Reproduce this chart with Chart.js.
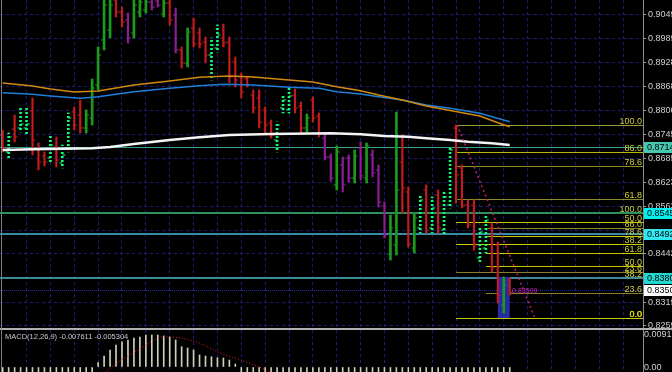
<!DOCTYPE html>
<html>
<head>
<meta charset="utf-8">
<script src="https://cdn.jsdelivr.net/npm/chart.js@4"></script>
<style>
  html, body { margin: 0; padding: 0; background: #000; }
  #wrap { position: relative; width: 672px; height: 372px; overflow: hidden; background: #000; }
  #main { position: absolute; left: 0; top: 0; }
  #macd { position: absolute; left: 0; top: 330px; }
  #sep { position: absolute; left: 0; top: 328px; width: 672px; height: 2px; background: #b0b0b0; }
  #edge { position: absolute; left: 1px; top: 0; width: 1px; height: 372px; background: #7c7c7c; }
  #macdTitle { position: absolute; left: 5px; top: 332px; font: 7.5px "Liberation Sans"; color: #c8c8c8; white-space: nowrap; }
</style>
</head>
<body>
<div id="wrap">
  <canvas id="main" width="672" height="328"></canvas>
  <div id="sep"></div>
  <canvas id="macd" width="672" height="42"></canvas>
  <div id="edge"></div>
  <div id="macdTitle">MACD(12,26,9) -0.007611 -0.005304</div>
</div>
<script>
// bar colours: r = red, p = purple, g = green, G = bright green (dotted)
const kinds = ('rGrGGrrrGr' + 'GGrrgggggr' + 'rpgggppgrp' + 'rgrrrGGrrr' + 'rrrrrrGGGr' +
               'rgrrppgppg' + 'pgpppggrrg' + 'GrGrGGrrrr' + 'GGrrgr').split('');

const highs = [
  0.87572, 0.87495, 0.87953, 0.88156, 0.88156, 0.88385, 0.87241, 0.87013, 0.87445, 0.87394,
  0.87190, 0.88004, 0.88156, 0.88334, 0.88080, 0.88868, 0.89682, 0.91050, 0.91180, 0.91100,
  0.90698, 0.90546, 0.91020, 0.91250, 0.91310, 0.91280, 0.91150, 0.91090, 0.91040, 0.90673,
  0.89682, 0.90165, 0.90419, 0.90165, 0.89936, 0.89910, 0.90241, 0.90266, 0.89936, 0.89427,
  0.89021, 0.88919, 0.88589, 0.88589, 0.88156, 0.87826, 0.87775, 0.88436, 0.88639, 0.88614,
  0.88284, 0.87978, 0.88411, 0.88004, 0.87495, 0.86962, 0.87165, 0.86885, 0.86936, 0.87063,
  0.87267, 0.87241, 0.87063, 0.86682, 0.85742, 0.85411, 0.88029, 0.87445, 0.86123, 0.85462,
  0.85919, 0.86174, 0.85869, 0.86047, 0.85996, 0.87140, 0.87699, 0.86682, 0.85792, 0.85792,
  0.85081, 0.85411, 0.85208, 0.84725, 0.83835, 0.83810
];
const lows = [
  0.87013, 0.86835, 0.87267, 0.87521, 0.87445, 0.86936, 0.86555, 0.86657, 0.86758, 0.86631,
  0.86606, 0.87013, 0.87572, 0.87495, 0.87495, 0.87699, 0.88589, 0.89605, 0.89910, 0.90444,
  0.90190, 0.89783, 0.89910, 0.90444, 0.90546, 0.90622, 0.90698, 0.90444, 0.90241, 0.89529,
  0.89148, 0.89173, 0.89682, 0.89656, 0.89275, 0.88843, 0.89555, 0.89682, 0.88766, 0.88665,
  0.88385, 0.88665, 0.88004, 0.87623, 0.87495, 0.87368, 0.87013, 0.88004, 0.88004, 0.88004,
  0.87495, 0.87521, 0.87775, 0.87394, 0.86809, 0.86275, 0.86047, 0.85996, 0.86250, 0.86224,
  0.86301, 0.86224, 0.86377, 0.85614, 0.84826, 0.84267, 0.84394, 0.85462, 0.84598, 0.84445,
  0.84953, 0.84953, 0.84953, 0.84953, 0.84903, 0.85589, 0.85716, 0.85589, 0.85081, 0.84521,
  0.84191, 0.84445, 0.83962, 0.83174, 0.82920, 0.83377
];
const opens = [
  0.87445, 0.87013, 0.87597, 0.87623, 0.87623, 0.88055, 0.87114, 0.86911, 0.86860, 0.87140,
  0.86733, 0.87114, 0.88029, 0.87953, 0.87623, 0.87876, 0.88715, 0.89859, 0.90113, 0.90876,
  0.90571, 0.90368, 0.90037, 0.90571, 0.90622, 0.90825, 0.90851, 0.90520, 0.90800, 0.90495,
  0.89605, 0.89275, 0.90165, 0.90037, 0.89808, 0.89478, 0.89656, 0.89910, 0.89808, 0.89300,
  0.88919, 0.88868, 0.88461, 0.88385, 0.88080, 0.87749, 0.87317, 0.88131, 0.88080, 0.88461,
  0.88182, 0.87623, 0.88334, 0.87927, 0.87368, 0.86885, 0.86174, 0.86682, 0.86860, 0.86351,
  0.87114, 0.86351, 0.86936, 0.86555, 0.85640, 0.84419, 0.84648, 0.86758, 0.85996, 0.84572,
  0.85081, 0.86047, 0.85081, 0.85919, 0.85029, 0.85665, 0.87623, 0.86606, 0.85665, 0.85665,
  0.84318, 0.84572, 0.85081, 0.84648, 0.83123, 0.83758
];
const closes = [
  0.87114, 0.87394, 0.87394, 0.87724, 0.87724, 0.87317, 0.86758, 0.86758, 0.87190, 0.86809,
  0.86936, 0.87876, 0.87699, 0.87623, 0.87953, 0.88639, 0.89478, 0.90749, 0.90749, 0.90571,
  0.90317, 0.89910, 0.90749, 0.90825, 0.90825, 0.90698, 0.90749, 0.90800, 0.90368, 0.89605,
  0.89275, 0.90063, 0.89758, 0.89758, 0.89478, 0.89732, 0.89986, 0.89783, 0.88919, 0.88843,
  0.88537, 0.88715, 0.88131, 0.87775, 0.87699, 0.87445, 0.87699, 0.88334, 0.88436, 0.88131,
  0.87623, 0.87876, 0.87876, 0.87495, 0.86885, 0.86351, 0.87013, 0.86174, 0.86351, 0.86911,
  0.86402, 0.87165, 0.86478, 0.85742, 0.84903, 0.85081, 0.86047, 0.86097, 0.84674, 0.85334,
  0.85792, 0.85029, 0.85589, 0.85081, 0.85869, 0.87063, 0.86428, 0.85665, 0.85157, 0.84648,
  0.84979, 0.85284, 0.84063, 0.83377, 0.83632, 0.83453
];

// moving averages, read at a few bars
const maOrangeX = [0, 5, 8, 12, 16, 22, 28, 33, 38, 42, 48, 52, 56, 60, 63, 67, 71, 75, 80, 83, 85];
const maOrange  = [0.88766, 0.88690, 0.88614, 0.88538, 0.88563, 0.88716, 0.88817, 0.88911, 0.88944, 0.88919, 0.88843,
                   0.88792, 0.88672, 0.88571, 0.88461, 0.88334, 0.88182, 0.88067, 0.87928, 0.87757, 0.87656];
const maBlueX = [0, 5, 8, 13, 16, 22, 28, 33, 37, 42, 48, 53, 56, 60, 63, 67, 71, 75, 80, 85];
const maBlue  = [0.88520, 0.88479, 0.88436, 0.88378, 0.88418, 0.88545, 0.88632, 0.88698, 0.88733, 0.88716,
                 0.88657, 0.88632, 0.88545, 0.88487, 0.88418, 0.88334, 0.88207, 0.88123, 0.87996, 0.87783];
const maWhiteX = [0, 5, 15, 18, 22, 28, 33, 38, 45, 55, 60, 64, 68, 71, 75, 78, 82, 85];
const maWhite  = [0.87063, 0.87081, 0.87107, 0.87140, 0.87216, 0.87318, 0.87386, 0.87445, 0.87470, 0.87488,
                  0.87462, 0.87419, 0.87401, 0.87361, 0.87318, 0.87274, 0.87234, 0.87190];

// horizontal price levels
const levelPrices = [0.87146, 0.85454, 0.84925, 0.83803, 0.83509];
const levelLabels = ['0.87146', '0.85454', '0.84925', '0.83803', '0.83509'];

// fibonacci retracements
const fibRatios = [100, 86, 78.6, 61.8, 50, 38.2, 23.6, 0];
const fib1Start = 76, fib1High = 0.87699, fib1Low = 0.82792;
const fib2Start = 81, fib2High = 0.85454, fib2Low = 0.82792;

// trend line and box
const trendX = [76.2, 89.2];
const trendY = [0.87699, 0.82792];
const boxFrom = 83, boxTo = 85, boxTop = 0.83835, boxBottom = 0.82792;
const noteText = '0.83509', noteX = 85.4, notePrice = 0.83469;

// axis ticks
const priceTicks  = [0.90495, 0.89895, 0.89280, 0.88680, 0.88065, 0.87450, 0.86850, 0.86235, 0.85635, 0.85020, 0.84420, 0.83805, 0.83190, 0.82590];
const priceLabels = ['0.90495', '0.89895', '0.89280', '0.88680', '0.88065', '0.87450', '0.86850', '0.86235', '0.85635', '', '0.84420', '', '0.83190', '0.82590'];
const gridBars = [4, 8, 12, 16, 20, 24, 28, 32, 36, 40, 44, 48, 52, 56, 60, 64, 68, 72, 76, 80, 84, 88, 92, 96, 100, 104];

// MACD
const macdHist = [
  -0.0041, -0.0043, -0.0044, -0.0042, -0.0040, -0.0041, -0.0042, -0.0040, -0.0037, -0.0034,
  -0.0030, -0.0026, -0.0022, -0.0019, -0.0017, -0.0016, 0.00119, 0.00304, 0.00470, 0.00608,
  0.00699, 0.00746, 0.00802, 0.00829, 0.00884, 0.00884, 0.00884, 0.00857, 0.00829, 0.00746,
  0.00561, 0.00525, 0.00470, 0.00332, 0.00304, 0.00285, 0.00257, 0.00249, 0.00193, 0.00083,
  -0.0015, -0.0019, -0.0024, -0.0028, -0.0031, -0.0033, -0.0034, -0.0033, -0.0032, -0.0031,
  -0.0031, -0.0032, -0.0031, -0.0032, -0.0035, -0.0039, -0.0041, -0.0044, -0.0046, -0.0046,
  -0.0046, -0.0045, -0.0046, -0.0050, -0.0057, -0.0063, -0.0060, -0.0058, -0.0061, -0.0062,
  -0.0060, -0.0059, -0.0057, -0.0056, -0.0053, -0.0047, -0.0045, -0.0046, -0.0048, -0.0052,
  -0.0055, -0.0055, -0.0060, -0.0068, -0.0074, -0.0076
];
const macdSignalX = [16, 18, 20, 22, 24, 26, 27, 30, 33, 36, 40, 43, 45, 50, 55, 60, 65, 70, 75, 80, 85];
const macdSignal  = [-0.0030, -0.0004, 0.0021, 0.0040, 0.0061, 0.0080, 0.0083, 0.0080, 0.0066, 0.0042, 0.0019,
                     0.0000, -0.0014, -0.0030, -0.0034, -0.0044, -0.0052, -0.0059, -0.0053, -0.0050, -0.0053];
const macdTicks  = [0.00912, 0];
const macdLabels = ['0.00912', '0.00'];

const barColor = { r: '#c41c1c', p: '#8e1e96', g: '#1c9a1c', G: '#10ff70' };
const gridColor = '#1c1c7c';
const axisFont = { family: 'Liberation Sans', size: 9 };

const mainCtx = document.getElementById('main').getContext('2d');

function dotted(color) {
  const c = document.createElement('canvas');
  c.width = 1; c.height = 4;
  const g = c.getContext('2d');
  g.fillStyle = color;
  g.fillRect(0, 0, 1, 2);
  return mainCtx.createPattern(c, 'repeat');
}

function xScale() {
  return {
    type: 'linear', min: -0.45, max: 107.34, offset: false,
    afterBuildTicks: s => { s.ticks = gridBars.map(v => ({ value: v })); },
    afterFit: s => { s.height = 0; s.paddingLeft = 0; s.paddingRight = 0; },
    ticks: { display: false },
    grid: { color: gridColor, drawTicks: false, offset: false },
    border: { display: false, dash: [3, 3] }
  };
}

const idx = highs.map((_, i) => i);

const wickSets = ['p', 'r', 'g', 'G'].map(k => ({
  type: 'bar',
  data: idx.filter(i => kinds[i] === k).map(i => ({ x: i, y: [lows[i], highs[i]] })),
  backgroundColor: k === 'G' ? dotted(barColor.G) : barColor[k],
  barThickness: (k === 'g' || k === 'G') ? 2 : 1.5,
  grouped: false,
  order: 3
}));

function tickSet(values, shift) {
  return {
    type: 'line', showLine: false, order: 2,
    data: values.map((v, i) => ({ x: i + shift, y: v })),
    pointStyle: 'line', pointRadius: 1.5, pointBorderWidth: 1,
    pointBorderColor: kinds.map(k => barColor[k]),
    pointBackgroundColor: kinds.map(k => barColor[k])
  };
}

function maSet(xs, ys, color, width) {
  return {
    type: 'line', order: 1,
    data: xs.map((x, i) => ({ x: x, y: ys[i] })),
    borderColor: color, borderWidth: width, pointRadius: 0, tension: 0
  };
}

function fibLevels(high, low) {
  return fibRatios.map(r => low + (high - low) * r / 100);
}

const fib1Colors = ['#9a9a36', '#b8b800', '#8a8a28', '#8a8a28', '#c8c800', '#d0d000', '#8a7e28', '#c8c800'];
const fib2Colors = ['#8a8a28', '#8a8a28', '#c8c800', '#c8c800', '#c8c800', '#8a8a28', '#8a7e28', '#c8c800'];
const levelColors = ['#3a9e8c', '#2f8f5f', '#3a8aa6', '#3c8a9a', '#2a2aa0'];
const levelWidths = [1, 2, 2, 2, 1];
const boxColors = ['#46c8b0', '#00f0f0', '#30e8f0', '#20d8d0', '#ffffff'];

const mainOverlay = {
  id: 'mainOverlay',
  beforeDatasetsDraw(chart) {
    const { ctx, chartArea: a, scales: { x, y } } = chart;
    ctx.save();
    ctx.beginPath(); ctx.rect(a.left, a.top, a.width, a.height); ctx.clip();
    ctx.lineWidth = 1;
    [[fib1Start, fib1High, fib1Low, fib1Colors], [fib2Start, fib2High, fib2Low, fib2Colors]].forEach(([s, hi, lo, cols]) => {
      const x0 = x.getPixelForValue(s);
      fibLevels(hi, lo).forEach((p, k) => {
        const py = Math.round(y.getPixelForValue(p)) + 0.5;
        ctx.strokeStyle = cols[k];
        ctx.beginPath(); ctx.moveTo(x0, py); ctx.lineTo(a.right, py); ctx.stroke();
      });
    });
    levelPrices.forEach((p, k) => {
      const w = levelWidths[k];
      const py = Math.round(y.getPixelForValue(p)) + (w % 2 ? 0.5 : 0);
      ctx.strokeStyle = levelColors[k];
      ctx.lineWidth = w;
      ctx.setLineDash(k === 4 ? [1, 1] : []);
      ctx.beginPath(); ctx.moveTo(a.left, py); ctx.lineTo(a.right, py); ctx.stroke();
    });
    ctx.setLineDash([]);
    const bx0 = x.getPixelForValue(boxFrom), bx1 = x.getPixelForValue(boxTo);
    const by0 = y.getPixelForValue(boxTop), by1 = y.getPixelForValue(boxBottom);
    ctx.fillStyle = '#2a2aa4';
    ctx.fillRect(bx0, by0, bx1 - bx0, by1 - by0);
    ctx.restore();
  },
  afterDraw(chart) {
    const { ctx, chartArea: a, scales: { x, y } } = chart;
    ctx.save();
    ctx.font = '9px "Liberation Sans"';
    ctx.textAlign = 'right';
    ctx.textBaseline = 'alphabetic';
    [[fib1High, fib1Low], [fib2High, fib2Low]].forEach(([hi, lo]) => {
      fibLevels(hi, lo).forEach((p, k) => {
        const py = Math.round(y.getPixelForValue(p));
        ctx.fillStyle = fibRatios[k] === 0 ? '#e0e000' : '#cccc3c';
        ctx.fillText(fibRatios[k].toFixed(1), a.right - 1, py - 1);
      });
    });
    ctx.fillStyle = '#d020c8';
    ctx.font = '7px "Liberation Sans"';
    ctx.textAlign = 'left';
    ctx.textBaseline = 'middle';
    ctx.fillText(noteText, x.getPixelForValue(noteX), y.getPixelForValue(notePrice));
    ctx.font = '9px "Liberation Sans"';
    levelPrices.forEach((p, k) => {
      const py = Math.round(y.getPixelForValue(p));
      ctx.fillStyle = boxColors[k];
      ctx.fillRect(a.right + 1, py - 5, 29, 11);
      ctx.fillStyle = '#000';
      ctx.fillText(levelLabels[k], a.right + 4, py + 0.5);
    });
    ctx.restore();
  }
};

new Chart(mainCtx, {
  type: 'bar',
  data: {
    datasets: [
      ...wickSets,
      tickSet(opens, -0.25),
      tickSet(closes, 0.25),
      maSet(maOrangeX, maOrange, '#d08a10', 1.5),
      maSet(maBlueX, maBlue, '#1e7fd8', 1.5),
      maSet(maWhiteX, maWhite, '#f4f4f4', 2.5),
      {
        type: 'line', order: 0,
        data: trendX.map((v, i) => ({ x: v, y: trendY[i] })),
        borderColor: '#d01870', borderWidth: 1.5, borderDash: [2, 3], pointRadius: 0
      }
    ]
  },
  options: {
    responsive: false, animation: false, devicePixelRatio: 1,
    layout: { padding: 0, autoPadding: false },
    plugins: { legend: { display: false }, tooltip: { enabled: false } },
    scales: {
      x: xScale(),
      y: {
        position: 'right', min: 0.825385, max: 0.908763,
        afterBuildTicks: s => { s.ticks = priceTicks.map(v => ({ value: v })); },
        afterFit: s => { s.width = 29; s.paddingTop = 0; s.paddingBottom = 0; },
        ticks: { color: '#cfcfcf', font: axisFont, padding: 2, callback: (v, i) => priceLabels[i] },
        grid: { color: gridColor, tickColor: '#9a9a9a', tickLength: 3, tickBorderDash: [] },
        border: { display: true, color: '#8a8a8a', width: 1, dash: [3, 3] }
      }
    }
  },
  plugins: [mainOverlay]
});

new Chart(document.getElementById('macd').getContext('2d'), {
  type: 'bar',
  data: {
    datasets: [
      {
        type: 'bar', order: 2,
        data: macdHist.map((v, i) => ({ x: i, y: v })),
        backgroundColor: '#cfcfb8', barThickness: 1, grouped: false
      },
      {
        type: 'line', order: 1,
        data: macdSignalX.map((v, i) => ({ x: v, y: macdSignal[i] })),
        borderColor: '#e82020', borderWidth: 1, borderDash: [1, 2], pointRadius: 0, tension: 0.3
      }
    ]
  },
  options: {
    responsive: false, animation: false, devicePixelRatio: 1,
    layout: { padding: 0, autoPadding: false },
    plugins: { legend: { display: false }, tooltip: { enabled: false } },
    scales: {
      x: xScale(),
      y: {
        position: 'right', min: -0.001382, max: 0.010226,
        afterBuildTicks: s => { s.ticks = macdTicks.map(v => ({ value: v })); },
        afterFit: s => { s.width = 29; s.paddingTop = 0; s.paddingBottom = 0; },
        ticks: { color: '#cfcfcf', font: axisFont, padding: 1, labelOffset: 1, callback: (v, i) => macdLabels[i] },
        grid: { drawOnChartArea: false, drawTicks: false },
        border: { display: true, color: '#8a8a8a', width: 1 }
      }
    }
  }
});
</script>
</body>
</html>
